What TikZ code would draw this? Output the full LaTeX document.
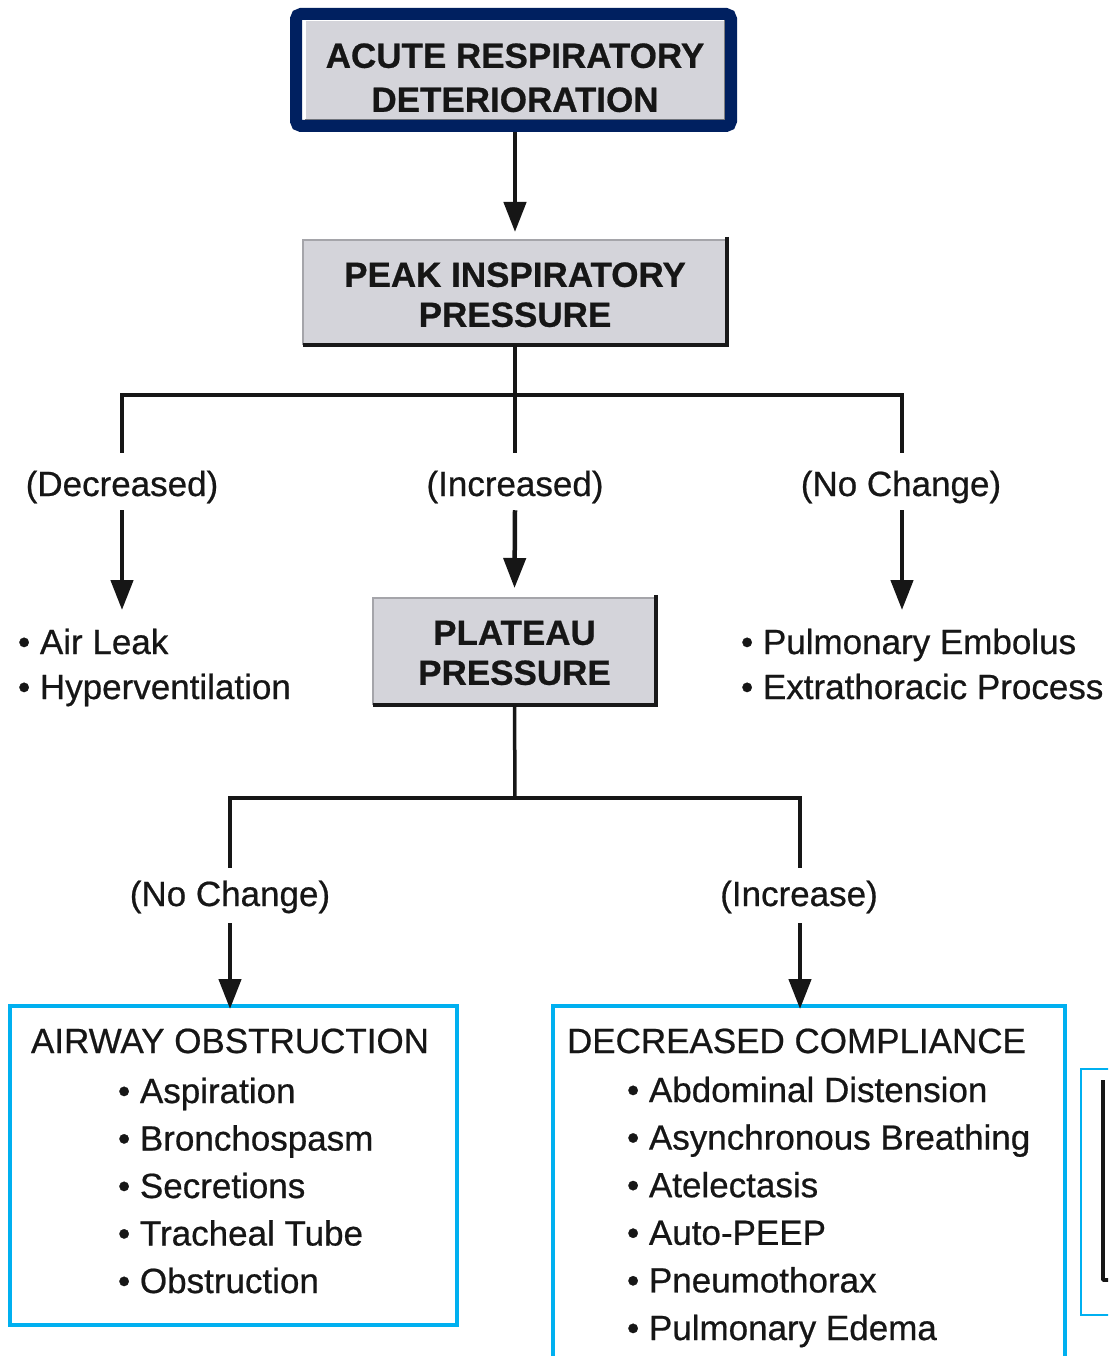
\documentclass[tikz,border=0pt]{standalone}
\usepackage{fontspec}
\setmainfont{Liberation Sans}[FakeBold=0.6]
\usetikzlibrary{arrows.meta}
\definecolor{navy}{RGB}{0,32,96}
\definecolor{boxgray}{RGB}{212,212,218}
\definecolor{edgedark}{RGB}{25,25,25}
\definecolor{edgelight}{RGB}{165,165,170}
\definecolor{skyline}{RGB}{0,176,240}
\definecolor{ink}{RGB}{22,22,22}

\begin{document}
\begin{tikzpicture}[x=1pt,y=-1pt,
  every node/.style={inner sep=0pt, outer sep=0pt, text=ink, font=\fontsize{35}{40}\selectfont},
  graybox/.style={fill=boxgray, align=center, font=\fontsize{35}{40}\selectfont\bfseries},
  conn/.style={draw=ink, line width=3.5pt},
  arrowline/.style={draw=ink, line width=4.5pt, -{Triangle[width=22pt,length=30pt]}},
  lbl/.style={anchor=base},
  item/.style={anchor=base west},
  bluebox/.style={draw=skyline, line width=4.5pt},
  lightedge/.style={draw=edgelight, line width=2pt},
  darkedge/.style={draw=edgedark, line width=4.5pt},
]
\useasboundingbox (0,0) rectangle (1108,1356);
\fill[white] (0,0) rectangle (1108,1356);
\clip (0,0) rectangle (1108,1356);

% ---- top box with navy frame ----
\node[graybox, minimum width=420, minimum height=100, font=\fontsize{35}{44}\selectfont\bfseries]
  (acute) at (515,70) {\rule{0pt}{40pt}ACUTE RESPIRATORY\\DETERIORATION};
\draw[draw=white, line width=1.5pt] (acute.south west) -- (acute.north west) -- (acute.north east);
\draw[draw=gray, line width=2pt] (acute.north east) -- (acute.south east) -- (acute.south west);
\draw[navy, line width=12pt, rounded corners=5pt]
  ([shift={(-9,-6)}]acute.north west) rectangle ([shift={(6,6)}]acute.south east);

% ---- peak inspiratory pressure ----
\node[graybox, minimum width=424, minimum height=105] (peak) at (515,292.5)
  {\rule{0pt}{29pt}PEAK INSPIRATORY\\PRESSURE};
\draw[lightedge] (peak.south west) -- (peak.north west) -- (peak.north east);
\draw[darkedge] ([yshift=3pt]peak.north east) -- (peak.south east) -- (peak.south west);

\draw[arrowline] ([yshift=-12pt]acute.south) -- ([yshift=8pt]peak.north);

% ---- first branching ----
\node[lbl] (lblDec) at (122,496) {(Decreased)};
\node[lbl] (lblInc) at (515,496) {(Increased)};
\node[lbl] (lblNC)  at (901,496) {(No Change)};

\coordinate (bus1L) at (122,395);
\coordinate (bus1R) at (902,395);
\draw[conn] (peak.south) -- ([yshift=18pt]lblInc.north);
\draw[conn] ([yshift=18pt]lblDec.north) -- (bus1L) -- (bus1R) -- ([yshift=18pt]lblNC.north -| bus1R);

% ---- plateau pressure ----
\node[graybox, minimum width=283, minimum height=107] (plat) at (514.5,651.5)
  {\rule{0pt}{27pt}PLATEAU\\PRESSURE};
\draw[lightedge] (plat.south west) -- (plat.north west) -- (plat.north east);
\draw[darkedge] ([yshift=3pt]plat.north east) -- (plat.south east) -- (plat.south west);

\coordinate (tipDec) at (122,610);
\coordinate (tipNC) at (902,610);
\draw[arrowline] ([yshift=-7pt]lblDec.south) -- (tipDec);
\draw[arrowline] ([yshift=-7pt]lblInc.south) -- ([yshift=10pt]plat.north);
\draw[arrowline] ([yshift=-7pt]lblNC.south -| tipNC) -- (tipNC);

\node[item] (leak1) at (18,654) {• Air Leak};
\node[item] (leak2) at (18,699) {• Hyperventilation};
\node[item] (pe1) at (741,654) {• Pulmonary Embolus};
\node[item] (pe2) at (741,699) {• Extrathoracic Process};

% ---- second branching ----
\node[lbl] (lblNC2)  at (230,906) {(No Change)};
\node[lbl] (lblIncr) at (799,906) {(Increase)};
\coordinate (bus2C) at (515,798);
\coordinate (bus2L) at (230,798);
\coordinate (bus2R) at (800,798);
\draw[conn] (plat.south) -- (bus2C);
\draw[conn] ([yshift=13pt]lblNC2.north) -- (bus2L) -- (bus2R) -- ([yshift=13pt]lblIncr.north -| bus2R);

% ---- outcome boxes ----
\node[bluebox, minimum width=447, minimum height=319] (aw) at (233.5,1165.5) {};
\node[bluebox, minimum width=512, minimum height=380] (dc) at (809,1196) {};

\coordinate (tipNC2) at (lblNC2 |- aw.north);
\coordinate (tipIncr) at (bus2R |- dc.north);
\draw[arrowline] ([yshift=-10pt]lblNC2.south) -- ([yshift=-3pt]tipNC2);
\draw[arrowline] ([yshift=-10pt]lblIncr.south -| bus2R) -- ([yshift=-3pt]tipIncr);

\node[lbl] (awT) at (230,1053) {AIRWAY OBSTRUCTION};
\foreach \t [count=\i] in {Aspiration, Bronchospasm, Secretions, Tracheal Tube, Obstruction}
  \node[item] (aw\i) at (118,{1103+47.5*(\i-1)}) {• \t};

\node[item] (dcT) at (567,1053) {DECREASED COMPLIANCE};
\foreach \t [count=\i] in {Abdominal Distension, Asynchronous Breathing, Atelectasis, Auto-PEEP, Pneumothorax, Pulmonary Edema}
  \node[item] (dc\i) at (627,{1102+47.6*(\i-1)}) {• \t};

% ---- partly visible box at the right edge ----
\node[draw=skyline, line width=1.5pt, minimum width=60, minimum height=246, anchor=north west]
  (side) at (1081,1069) {};
\draw[ink, line width=3.5pt, line join=round]
  ([shift={(22,11)}]side.north west) -- ([shift={(22,-35)}]side.south west) -- ++(12,0);
\end{tikzpicture}
\end{document}
